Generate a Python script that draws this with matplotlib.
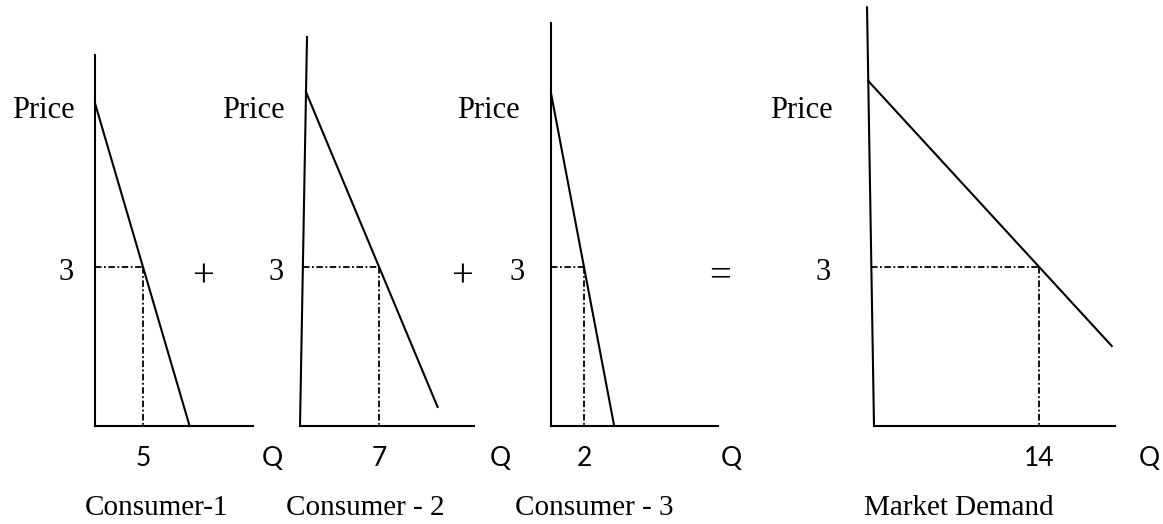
import matplotlib
matplotlib.use('Agg')
import matplotlib.pyplot as plt
import numpy as np

W, H = 1163, 524

# demand schedules (price axis shared, quantity per panel)
captions = ['Consumer-1', 'Consumer - 2', 'Consumer - 3', 'Market Demand']
eq_price = 3
eq_qty = [5, 7, 2, 14]
price_top = [6.09, 6.30, 6.28, 6.51]      # where each demand line starts on the price axis
price_end = [0.0, 0.36, 0.0, 1.51]        # price at the lower end of each demand line
axis_top = [7.0, 7.34, 7.6, 7.9]          # height of the vertical axis
axis_lean = [0.0, 0.62, 0.0, -0.59]       # quantity offset of the axis top (hand-drawn slant)
qty_axis_end = [16.5, 15.4, 10.1, 20.4]
operators = ['+', '+', '=', '']

# layout, pixels: origin x, px per quantity unit
origin_px = [95, 300, 551, 874]
qty_px = [9.6, 11.3, 16.5, 11.8]
base_py, price_px = 426, 53
price_lbl_px = [75, 285, 520, 833]
three_lbl_px = [74, 284, 525, 831]
op_px = [203, 462, 720, None]
q_lbl_px = [272, 500, 731, 1149]
cap_px = [157, 365, 594, 959]

serif = 'Liberation Serif'
sans = 'Lato'

fig = plt.figure(figsize=(W / 100, H / 100), dpi=100)

for i in range(4):
    x0, sx = origin_px[i], qty_px[i]
    ax = fig.add_axes([0, 0, 1, 1])
    ax.set_xlim(-x0 / sx, (W - x0) / sx)
    ax.set_ylim((base_py - H) / price_px, base_py / price_px)
    ax.axis('off')
    ax.patch.set_alpha(0)

    def qx(px):
        return (px - x0) / sx

    def py(p):
        return (base_py - p) / price_px

    # axes lines
    ax.plot([0, axis_lean[i]], [0, axis_top[i]], color='black', lw=1.5)
    ax.plot([0, qty_axis_end[i]], [0, 0], color='black', lw=1.5)

    # demand line through the start on the price axis and the equilibrium point
    q_start = axis_lean[i] * price_top[i] / axis_top[i]
    slope = (eq_qty[i] - q_start) / (price_top[i] - eq_price)
    q_end = q_start + slope * (price_top[i] - price_end[i])
    ax.plot([q_start, q_end], [price_top[i], price_end[i]], color='black', lw=1.5)

    # dash-dot guides
    q_axis3 = axis_lean[i] * eq_price / axis_top[i]
    ls = (0, (3.6, 1.4, 1.0, 1.4))
    ax.plot([q_axis3, eq_qty[i]], [eq_price, eq_price], color='black', lw=1.3, ls=ls)
    ax.plot([eq_qty[i], eq_qty[i]], [eq_price, 0], color='black', lw=1.3, ls=ls)

    # labels
    ax.text(qx(price_lbl_px[i]), py(110), 'Price', ha='right', va='center',
            family=serif, fontsize=22)
    ax.text(qx(three_lbl_px[i]), py(272), str(eq_price), ha='right', va='center',
            family=serif, fontsize=22)
    if operators[i]:
        ax.text(qx(op_px[i]), py(277), operators[i], ha='center', va='center',
                family=serif, fontsize=28)
    ax.text(eq_qty[i], py(458), str(eq_qty[i]), ha='center', va='center',
            family=sans, fontsize=19)
    ax.text(qx(q_lbl_px[i]), py(458), 'Q', ha='center', va='center',
            family=sans, fontsize=19)
    ax.text(qx(cap_px[i]), py(508), captions[i], ha='center', va='center',
            family=serif, fontsize=21)

fig.savefig('out.png', dpi=100)
